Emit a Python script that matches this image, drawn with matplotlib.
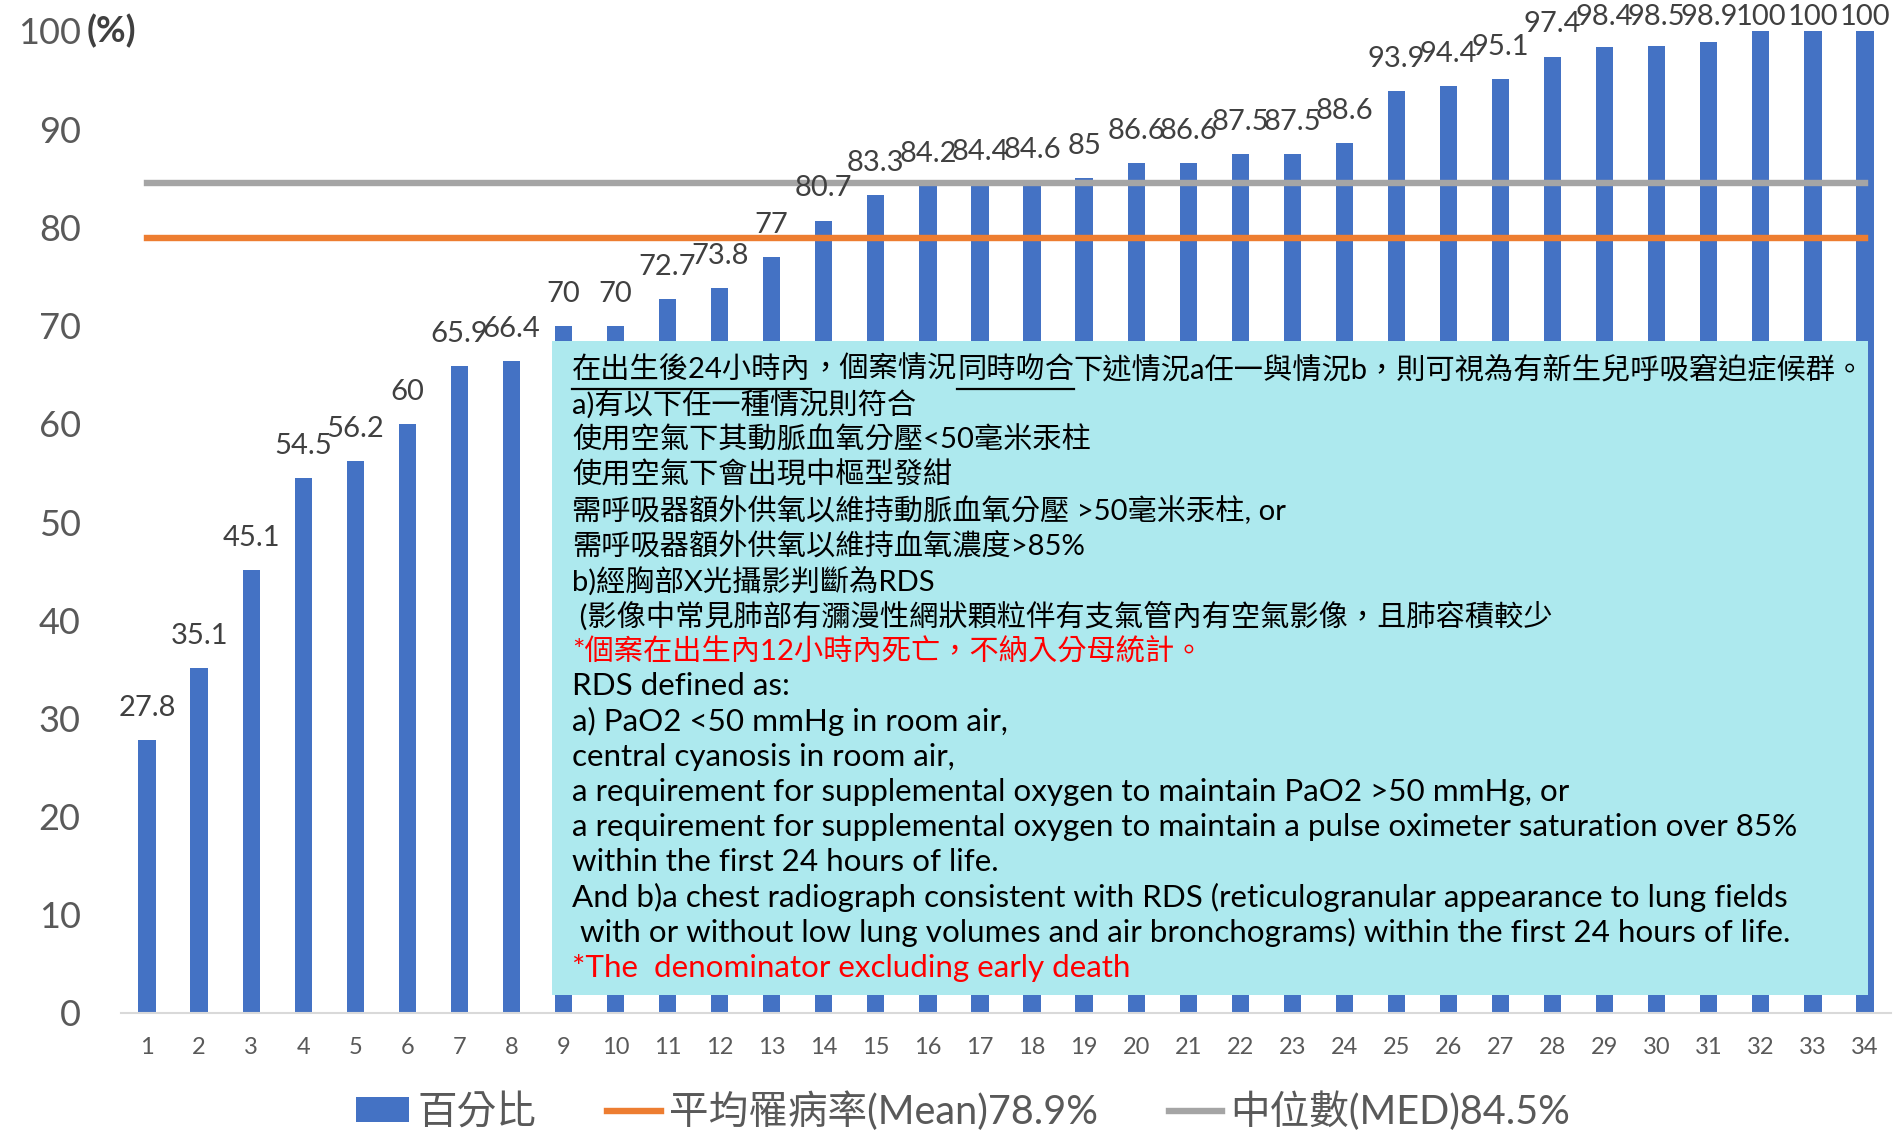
import matplotlib
matplotlib.use('Agg')
import matplotlib.pyplot as plt
from matplotlib.patches import Rectangle
from matplotlib.lines import Line2D
import numpy as np

# ---------------- data ----------------
categories = list(range(1, 35))
values = [27.8, 35.1, 45.1, 54.5, 56.2, 60, 65.9, 66.4, 70, 70, 72.7, 73.8, 77,
          80.7, 83.3, 84.2, 84.4, 84.6, 85, 86.6, 86.6, 87.5, 87.5, 88.6, 93.9,
          94.4, 95.1, 97.4, 98.4, 98.5, 98.9, 100, 100, 100]
value_labels = ['27.8', '35.1', '45.1', '54.5', '56.2', '60', '65.9', '66.4', '70',
                '70', '72.7', '73.8', '77', '80.7', '83.3', '84.2', '84.4', '84.6',
                '85', '86.6', '86.6', '87.5', '87.5', '88.6', '93.9', '94.4', '95.1',
                '97.4', '98.4', '98.5', '98.9', '100', '100', '100']
mean_value = 78.9
median_value = 84.5
series_labels = ['百分比', '平均罹病率(Mean)78.9%', '中位數(MED)84.5%']
yticks = list(range(0, 101, 10))

note_lines = [
    [('在出生後24小時內', 'black', True), ('，個案情況', 'black', False), ('同時吻合', 'black', True),
     ('下述情況a任一與情況b，則可視為有新生兒呼吸窘迫症候群。', 'black', False)],
    [('a)有以下任一種情況則符合', 'black', False)],
    [('使用空氣下其動脈血氧分壓<50毫米汞柱', 'black', False)],
    [('使用空氣下會出現中樞型發紺', 'black', False)],
    [('需呼吸器額外供氧以維持動脈血氧分壓 >50毫米汞柱, or', 'black', False)],
    [('需呼吸器額外供氧以維持血氧濃度>85%', 'black', False)],
    [('b)經胸部X光攝影判斷為RDS', 'black', False)],
    [(' (影像中常見肺部有瀰漫性網狀顆粒伴有支氣管內有空氣影像，且肺容積較少', 'black', False)],
    [('*個案在出生內12小時內死亡，不納入分母統計。', '#FF0000', False)],
]
note_lines_en = [
    [('RDS defined as:', 'black', False)],
    [('a) PaO2 <50 mmHg in room air,', 'black', False)],
    [('central cyanosis in room air,', 'black', False)],
    [('a requirement for supplemental oxygen to maintain PaO2 >50 mmHg, or', 'black', False)],
    [('a requirement for supplemental oxygen to maintain a pulse oximeter saturation over 85%', 'black', False)],
    [('within the first 24 hours of life.', 'black', False)],
    [('And b)a chest radiograph consistent with RDS (reticulogranular appearance to lung fields', 'black', False)],
    [(' with or without low lung volumes and air bronchograms) within the first 24 hours of life.', 'black', False)],
    [('*The  denominator excluding early death', '#FF0000', False)],
]

# ---------------- style ----------------
BAR = '#4472C4'
ORANGE = '#ED7D31'
GRAY = '#A5A5A5'
TICK = '#595959'
LATIN_CJK = ['Lato', 'Noto Sans CJK TC', 'DejaVu Sans']
plt.rcParams['font.family'] = LATIN_CJK

W, H = 1895, 1130
fig = plt.figure(figsize=(W / 100, H / 100), dpi=100)
fig.patch.set_facecolor('white')


def fx(px):
    return px / W


def fy(py):
    return 1 - py / H


ax = fig.add_axes([fx(121), fy(1013), (1891 - 121) / W, (1013 - 31) / H])
bars = ax.bar(categories, values, width=0.33, color=BAR, zorder=2)
l_mean, = ax.plot(categories, np.full(len(categories), mean_value), color=ORANGE,
                  lw=4.6, solid_capstyle='projecting', zorder=3)
l_med, = ax.plot(categories, np.full(len(categories), median_value), color=GRAY,
                 lw=4.6, solid_capstyle='projecting', zorder=3)

ax.set_xlim(0.5, 34.5)
ax.set_ylim(0, 100)
ax.set_xticks(categories)
ax.set_xticklabels([str(c) for c in categories])
ax.set_yticks(yticks)
ax.tick_params(axis='y', length=0, pad=29, labelsize=26, labelcolor=TICK)
ax.tick_params(axis='x', length=0, pad=17.5, labelsize=17, labelcolor=TICK)
for s in ['top', 'right', 'left']:
    ax.spines[s].set_visible(False)
ax.spines['bottom'].set_color('#D9D9D9')
ax.spines['bottom'].set_linewidth(1.5)

# data labels (kept inside the picture at the top)
for c, v, lab in zip(categories, values, value_labels):
    ax.text(c, min(v + 2.45, 100.6), lab, ha='center', va='baseline',
            fontsize=21, color='#404040', clip_on=False, zorder=4)

fig.text(fx(87), fy(31), '(%)', fontsize=26, fontweight='bold', color='#404040',
         ha='left', va='center')

# note box
fig.add_artist(Rectangle((fx(552), fy(995)), (1868 - 552) / W, (995 - 341) / H,
                         transform=fig.transFigure, facecolor='#ADE9EE',
                         edgecolor='none', zorder=5))

renderer = fig.canvas.get_renderer()


def measure(s, fs):
    t = fig.text(0, 0, s, fontsize=fs)
    w = t.get_window_extent(renderer).width
    t.remove()
    return w


fs_cjk = 21.5 * 1293 / measure(''.join(p[0] for p in note_lines[0]), 21.5)
fs_en = 21.5 * 1230 / measure(note_lines_en[4][0][0], 21.5)

x0 = 572
y_first = 369.5
dy = 35.2


def draw_line(pieces, yc, fs):
    x = fx(x0)
    for s, col, ul in pieces:
        t = fig.text(x, fy(yc), s, fontsize=fs, color=col, ha='left', va='center', zorder=6)
        bb = t.get_window_extent(renderer)
        if ul:
            yline = fy(yc + 19)
            fig.add_artist(Line2D([x, x + bb.width / W], [yline, yline], color='black',
                                  lw=1.6, transform=fig.transFigure, zorder=6))
        x += bb.width / W


all_lines = [(p, fs_cjk) for p in note_lines] + [(p, fs_en) for p in note_lines_en]
for i, (pieces, fs) in enumerate(all_lines):
    draw_line(pieces, y_first + dy * i, fs)

# legend
fig.legend([bars, l_mean, l_med], series_labels, loc='center',
           bbox_to_anchor=(fx(963), fy(1111)), ncol=3, frameon=False,
           fontsize=28.5, labelcolor=TICK, handlelength=1.35, handleheight=0.6,
           handletextpad=0.2, columnspacing=1.8, borderpad=0)

fig.savefig('out.png', dpi=100, facecolor='white')
